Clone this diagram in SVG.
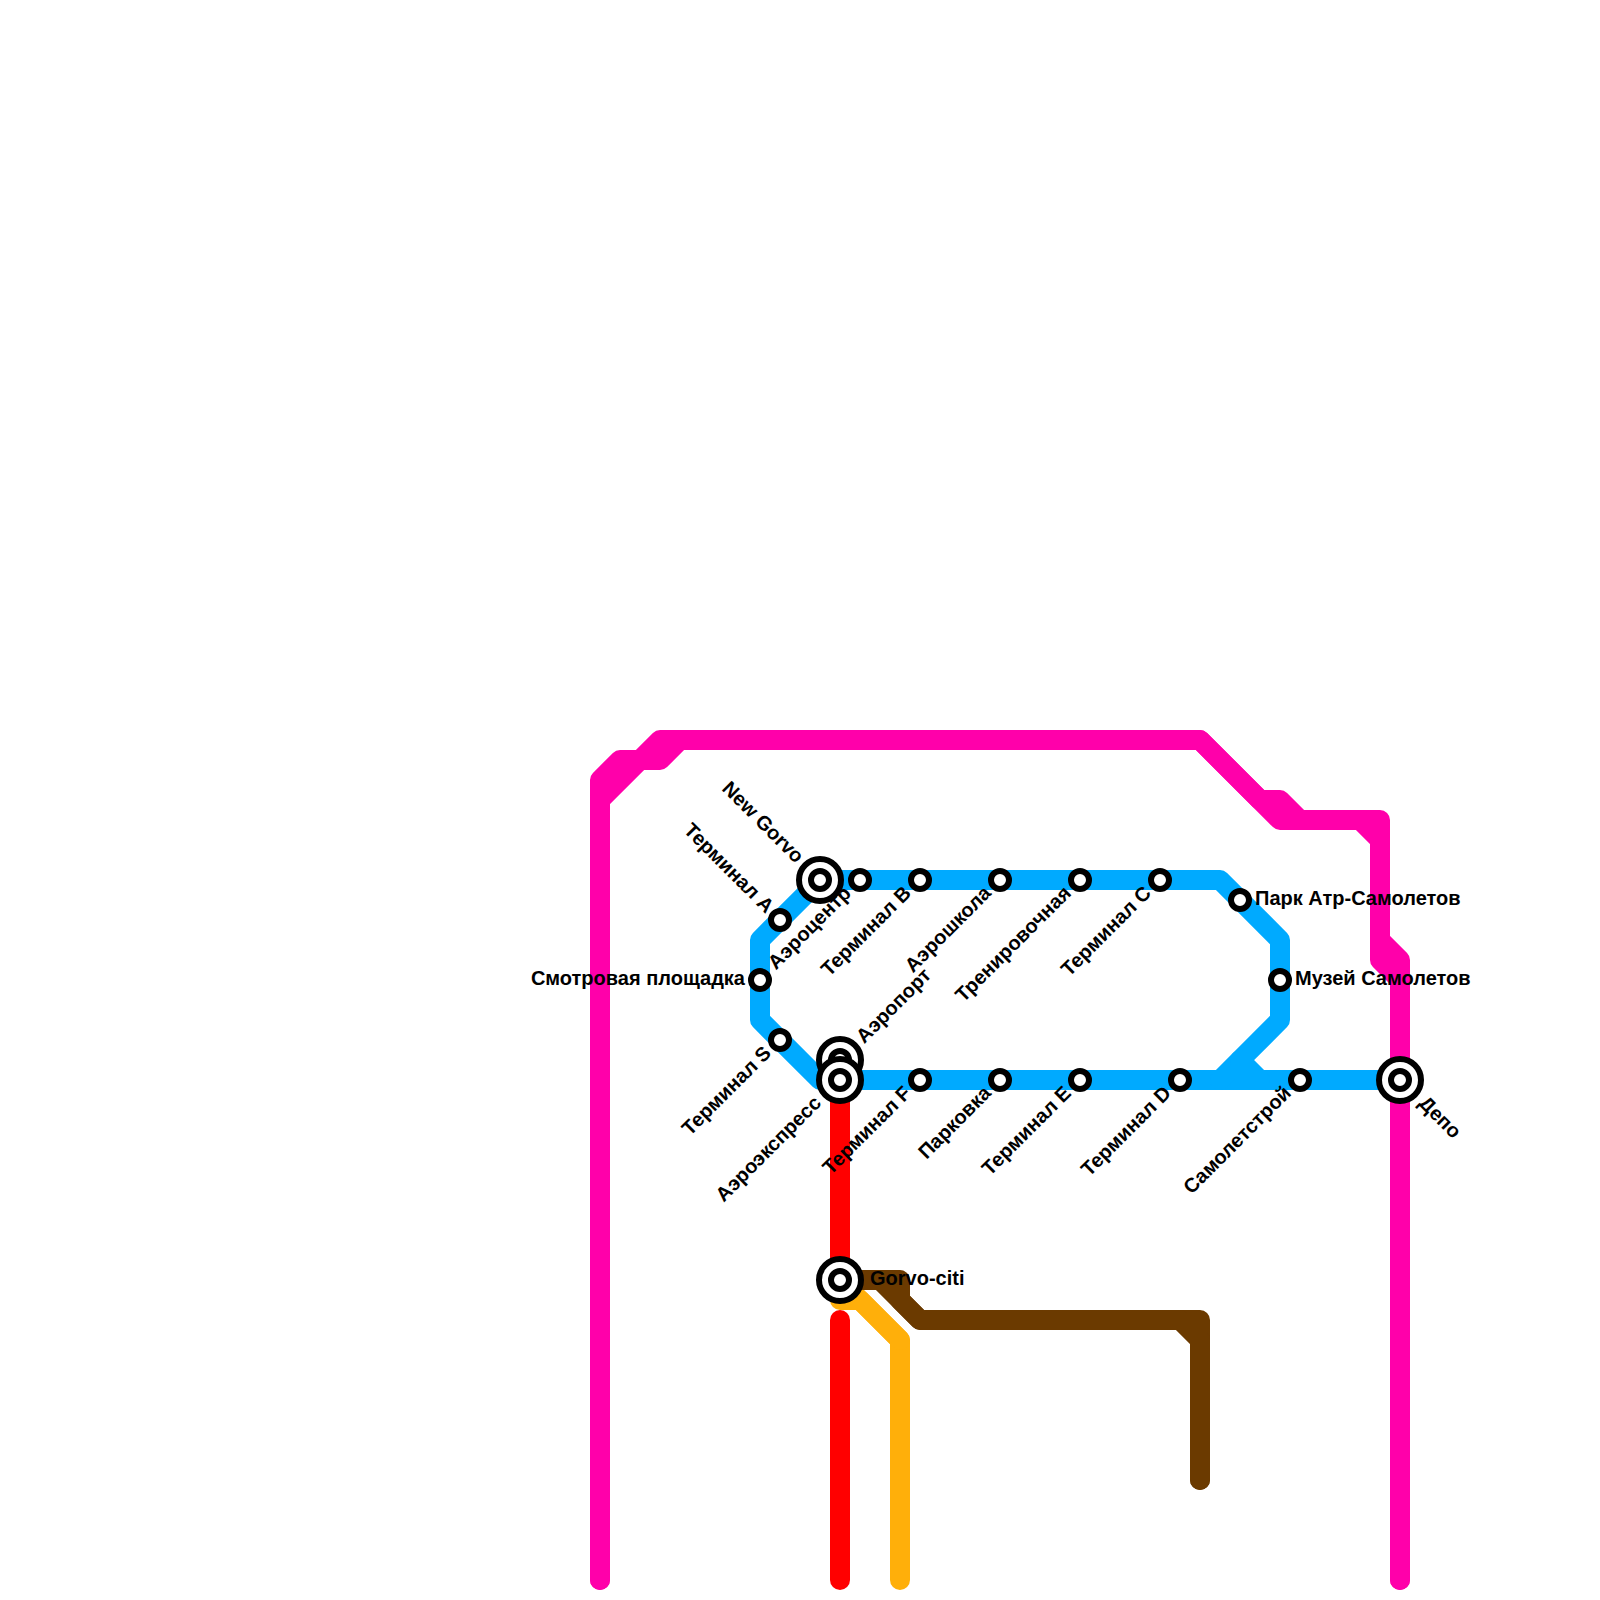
<svg xmlns="http://www.w3.org/2000/svg" width="1600" height="1600" viewBox="0 0 1600 1600">
<style>
.l{fill:none;stroke-width:20;stroke-linecap:round;stroke-linejoin:round}
.pink{stroke:#ff00aa}.blue{stroke:#00aaff}.red{stroke:#ff0000}.brown{stroke:#6b3a00}.orange{stroke:#ffaf0a}
.o{fill:#fff;stroke:#000;stroke-width:6}
text{font-family:"Liberation Sans",Arial,sans-serif;font-size:20px;font-weight:700;fill:#000}
.e{text-anchor:end}
</style>
<rect width="1600" height="1600" fill="#fff"/>
<g id="connectors">
<path class="l orange" d="M840 1280V1300H860L900 1340V1580"/>
<path class="l orange" d="M840 1280L900 1340"/>
<path class="l red" d="M840 1080V1280"/>
<path class="l red" d="M840 1320V1580"/>
<path class="l brown" d="M840 1280H900V1300L920 1320H1200V1480"/>
<path class="l brown" d="M880 1280L920 1320H1180L1200 1340V1480"/>
<path class="l pink" d="M600 1580V780L620 760H660L680 740H1200L1260 800H1280L1300 820H1380V940L1400 960V1580"/>
<path class="l pink" d="M600 1580V800L660 740H1200L1280 820H1360L1380 840V960L1400 980V1580"/>
<path class="l blue" d="M820 880L760 940V1020L820 1080H1400"/>
<path class="l blue" d="M820 880H1220L1280 940V1020L1220 1080"/>
<path class="l blue" d="M1240 1060L1260 1080"/>
</g>
<g id="airport"><circle class="o" cx="840" cy="1060" r="21"/><circle class="o" cx="840" cy="1060" r="9"/><text transform="translate(860 1040) rotate(-45)" y="6">Аэропорт</text></g>
<g id="aeroexpress"><circle class="o" cx="840" cy="1080" r="21"/><circle class="o" cx="840" cy="1080" r="9"/><text class="e" transform="translate(818 1100) rotate(-45)" y="6">Аэроэкспресс</text></g>
<g id="gorvo-citi"><circle class="o" cx="840" cy="1280" r="21"/><circle class="o" cx="840" cy="1280" r="9"/><text x="870" y="1285">Gorvo-citi</text></g>
<g id="new-gorvo"><circle class="o" cx="820" cy="880" r="21"/><circle class="o" cx="820" cy="880" r="9"/><text class="e" transform="translate(800 860) rotate(45)" y="6">New Gorvo</text></g>
<g id="depot"><circle class="o" cx="1400" cy="1080" r="21"/><circle class="o" cx="1400" cy="1080" r="9"/><text transform="translate(1422 1100) rotate(45)" y="6">Депо</text></g>
<g id="terminal-a"><circle class="o" cx="780" cy="920" r="9"/><text class="e" transform="translate(770 910) rotate(45)" y="6">Терминал A</text></g>
<g id="aerocenter"><circle class="o" cx="860" cy="880" r="9"/><text class="e" transform="translate(848 890) rotate(-45)" y="6">Аэроцентр</text></g>
<g id="terminal-b"><circle class="o" cx="920" cy="880" r="9"/><text class="e" transform="translate(908 890) rotate(-45)" y="6">Терминал B</text></g>
<g id="aeroschool"><circle class="o" cx="1000" cy="880" r="9"/><text class="e" transform="translate(988 890) rotate(-45)" y="6">Аэрошкола</text></g>
<g id="training"><circle class="o" cx="1080" cy="880" r="9"/><text class="e" transform="translate(1068 890) rotate(-45)" y="6">Тренировочная</text></g>
<g id="terminal-c"><circle class="o" cx="1160" cy="880" r="9"/><text class="e" transform="translate(1148 890) rotate(-45)" y="6">Терминал C</text></g>
<g id="park"><circle class="o" cx="1240" cy="900" r="9"/><text x="1255" y="905">Парк Атр-Самолетов</text></g>
<g id="museum"><circle class="o" cx="1280" cy="980" r="9"/><text x="1295" y="985">Музей Самолетов</text></g>
<g id="viewpoint"><circle class="o" cx="760" cy="980" r="9"/><text class="e" x="745" y="985">Смотровая площадка</text></g>
<g id="terminal-s"><circle class="o" cx="780" cy="1040" r="9"/><text class="e" transform="translate(768 1050) rotate(-45)" y="6">Терминал S</text></g>
<g id="terminal-f"><circle class="o" cx="920" cy="1080" r="9"/><text class="e" transform="translate(908 1090) rotate(-45)" y="6">Терминал F</text></g>
<g id="parking"><circle class="o" cx="1000" cy="1080" r="9"/><text class="e" transform="translate(988 1090) rotate(-45)" y="6">Парковка</text></g>
<g id="terminal-e"><circle class="o" cx="1080" cy="1080" r="9"/><text class="e" transform="translate(1068 1090) rotate(-45)" y="6">Терминал E</text></g>
<g id="terminal-d"><circle class="o" cx="1180" cy="1080" r="9"/><text class="e" transform="translate(1168 1090) rotate(-45)" y="6">Терминал D</text></g>
<g id="samoletstroy"><circle class="o" cx="1300" cy="1080" r="9"/><text class="e" transform="translate(1288 1090) rotate(-45)" y="6">Самолетстрой</text></g>
</svg>
